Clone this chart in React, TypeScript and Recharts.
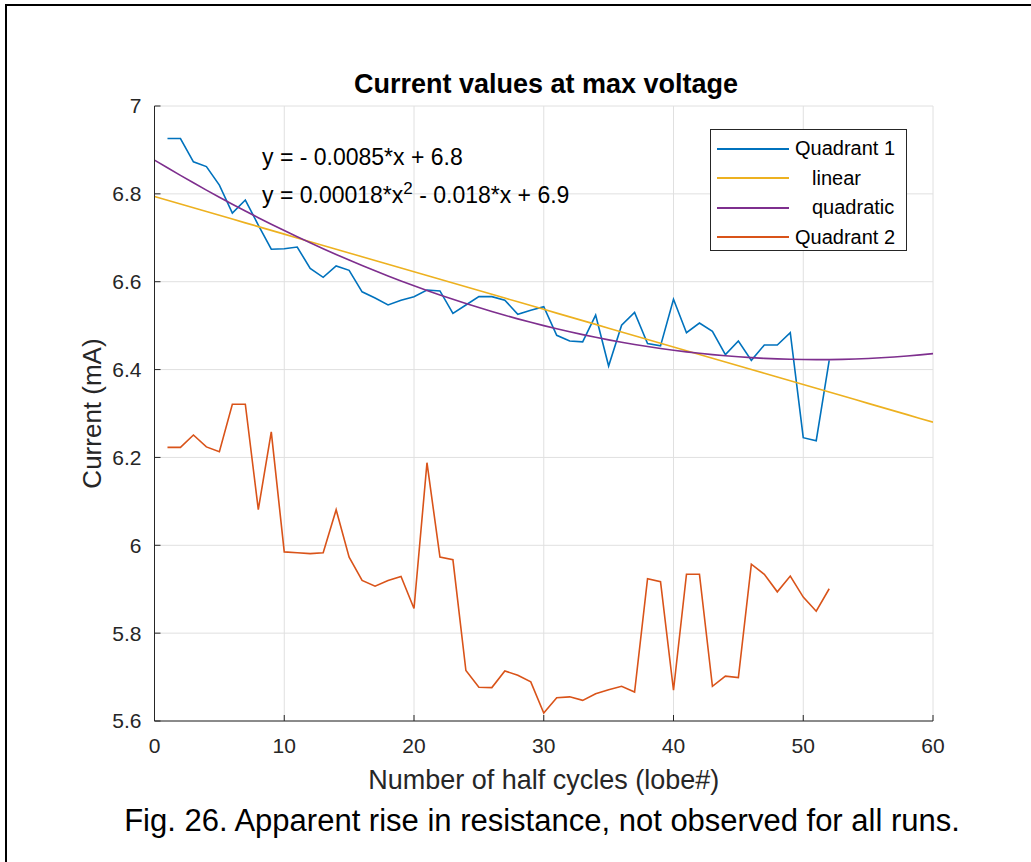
import { LineChart, Line, XAxis, YAxis, CartesianGrid, Legend } from "recharts";

// Peak current at max voltage per half cycle, two quadrants of the same run.

const FONT = '"Liberation Sans", Arial, Helvetica, sans-serif';
const INK = "#262626";

const HALF_CYCLES = [
  1, 2, 3, 4, 5, 6, 7, 8, 9, 10, 11, 12, 13, 14, 15, 16, 17, 18, 19, 20, 21, 22, 23, 24, 25, 26,
  27, 28, 29, 30, 31, 32, 33, 34, 35, 36, 37, 38, 39, 40, 41, 42, 43, 44, 45, 46, 47, 48, 49, 50,
  51, 52,
];

const QUADRANT_1 = [
  6.926, 6.926, 6.873, 6.862, 6.82, 6.756, 6.786, 6.729, 6.674, 6.675, 6.679, 6.63, 6.61, 6.636,
  6.626, 6.577, 6.563, 6.547, 6.558, 6.566, 6.581, 6.579, 6.528, 6.547, 6.566, 6.566, 6.558, 6.526,
  6.535, 6.543, 6.478, 6.465, 6.463, 6.524, 6.408, 6.501, 6.53, 6.459, 6.454, 6.56, 6.484, 6.506,
  6.487, 6.434, 6.465, 6.421, 6.456, 6.456, 6.484, 6.245, 6.238, 6.421,
];

const QUADRANT_2 = [
  6.223, 6.223, 6.251, 6.224, 6.213, 6.321, 6.321, 6.081, 6.258, 5.985, 5.983, 5.981, 5.983, 6.081,
  5.973, 5.92, 5.907, 5.92, 5.929, 5.856, 6.188, 5.973, 5.967, 5.715, 5.677, 5.676, 5.714, 5.704,
  5.689, 5.618, 5.653, 5.655, 5.647, 5.662, 5.671, 5.679, 5.666, 5.924, 5.917, 5.67, 5.934, 5.934,
  5.679, 5.702, 5.699, 5.957, 5.934, 5.894, 5.93, 5.882, 5.85, 5.901,
];

const X_TICKS = [0, 10, 20, 30, 40, 50, 60];
const Y_TICKS = [5.6, 5.8, 6, 6.2, 6.4, 6.6, 6.8, 7];

// least squares polynomial fit, returns coefficients lowest power first
function polyfit(xs: number[], ys: number[], degree: number): number[] {
  const n = degree + 1;
  const m: number[][] = Array.from({ length: n }, () => new Array(n + 1).fill(0));
  xs.forEach((x, k) => {
    for (let i = 0; i < n; i++) {
      for (let j = 0; j < n; j++) m[i][j] += x ** (i + j);
      m[i][n] += x ** i * ys[k];
    }
  });
  for (let c = 0; c < n; c++) {
    let p = c;
    for (let r = c + 1; r < n; r++) if (Math.abs(m[r][c]) > Math.abs(m[p][c])) p = r;
    [m[c], m[p]] = [m[p], m[c]];
    for (let r = 0; r < n; r++) {
      if (r === c) continue;
      const f = m[r][c] / m[c][c];
      for (let j = c; j <= n; j++) m[r][j] -= f * m[c][j];
    }
  }
  return m.map((row, i) => row[n] / row[i]);
}

const polyval = (coeffs: number[], x: number) =>
  coeffs.reduce((sum, c, i) => sum + c * x ** i, 0);

const q1Data = HALF_CYCLES.map((x, i) => ({ x, y: QUADRANT_1[i] }));
const q2Data = HALF_CYCLES.map((x, i) => ({ x, y: QUADRANT_2[i] }));

// fitted curves sampled over the full x range
const linCoeffs = polyfit(HALF_CYCLES, QUADRANT_1, 1);
const quadCoeffs = polyfit(HALF_CYCLES, QUADRANT_1, 2);
const fitX = Array.from({ length: 61 }, (_, i) => i);
const linData = fitX.map((x) => ({ x, y: polyval(linCoeffs, x) }));
const quadData = fitX.map((x) => ({ x, y: polyval(quadCoeffs, x) }));

const SERIES = [
  { name: "Quadrant 1", color: "#0072BD", data: q1Data, indent: 0 },
  { name: "linear", color: "#EDB120", data: linData, indent: 17 },
  { name: "quadratic", color: "#7E2F8E", data: quadData, indent: 17 },
  { name: "Quadrant 2", color: "#D95319", data: q2Data, indent: 0 },
];

function LegendBox() {
  return (
    <div
      style={{
        width: 197,
        height: 122,
        border: `1px solid ${INK}`,
        background: "#fff",
        fontFamily: FONT,
        fontSize: 20,
        color: "#000",
        paddingTop: 4,
        boxSizing: "border-box",
      }}
    >
      {SERIES.map((s) => (
        <div key={s.name} style={{ display: "flex", alignItems: "center", height: 29.5 }}>
          <span style={{ marginLeft: 6, width: 72, height: 2, background: s.color }} />
          <span style={{ marginLeft: 6 + s.indent }}>{s.name}</span>
        </div>
      ))}
    </div>
  );
}

export default function App() {
  return (
    <div style={{ position: "absolute", left: 0, top: 0, width: 1031, height: 862, background: "#fff" }}>
      {/* page frame, top and left edges only */}
      <div
        style={{
          position: "absolute",
          left: 5,
          top: 4,
          width: 1026,
          height: 858,
          borderTop: "2px solid #000",
          borderLeft: "2px solid #000",
          boxSizing: "border-box",
        }}
      />

      <div
        style={{
          position: "absolute",
          left: 0,
          width: 1092,
          top: 69,
          textAlign: "center",
          fontFamily: FONT,
          fontWeight: "bold",
          fontSize: 27,
          color: "#000",
        }}
      >
        Current values at max voltage
      </div>

      <div style={{ position: "absolute", left: 0, top: 0 }}>
        <LineChart
          width={1031}
          height={862}
          margin={{ top: 106, right: 98, bottom: 111, left: 94.5 }}
        >
          <CartesianGrid stroke="#e0e0e0" strokeWidth={1} />
          <XAxis
            type="number"
            dataKey="x"
            domain={[0, 60]}
            ticks={X_TICKS}
            allowDataOverflow
            height={30}
            stroke={INK}
            tickSize={-6}
            tickMargin={23}
            tick={{ fill: INK, fontSize: 21, fontFamily: FONT }}
            label={{
              value: "Number of half cycles (lobe#)",
              position: "bottom",
              offset: 19,
              style: { fill: INK, fontSize: 27, fontFamily: FONT },
            }}
          />
          <YAxis
            type="number"
            domain={[5.6, 7]}
            ticks={Y_TICKS}
            allowDataOverflow
            width={60}
            stroke={INK}
            tickSize={-6}
            tickMargin={19}
            tick={{ fill: INK, fontSize: 21, fontFamily: FONT }}
            label={{
              value: "Current (mA)",
              angle: -90,
              position: "insideLeft",
              offset: -3,
              style: { fill: INK, fontSize: 26, fontFamily: FONT, textAnchor: "middle" },
            }}
          />
          {SERIES.map((s) => (
            <Line
              key={s.name}
              data={s.data}
              dataKey="y"
              name={s.name}
              type="linear"
              stroke={s.color}
              strokeWidth={1.6}
              dot={false}
              isAnimationActive={false}
            />
          ))}
          <Legend
            layout="vertical"
            align="center"
            verticalAlign="middle"
            content={() => <LegendBox />}
            wrapperStyle={{ left: 710, top: 129, width: 199 }}
          />
        </LineChart>
      </div>

      {/* fit equations */}
      <div
        style={{
          position: "absolute",
          left: 262,
          top: 138,
          fontFamily: FONT,
          fontSize: 23,
          color: "#000",
          lineHeight: "38px",
        }}
      >
        <div>y = - 0.0085*x + 6.8</div>
        <div>
          y = 0.00018*x<sup style={{ fontSize: 17, lineHeight: 0 }}>2</sup> - 0.018*x + 6.9
        </div>
      </div>

      <div
        style={{
          position: "absolute",
          left: 0,
          width: 1084,
          top: 803,
          textAlign: "center",
          fontFamily: FONT,
          fontSize: 31,
          color: "#000",
        }}
      >
        Fig. 26. Apparent rise in resistance, not observed for all runs.
      </div>
    </div>
  );
}
